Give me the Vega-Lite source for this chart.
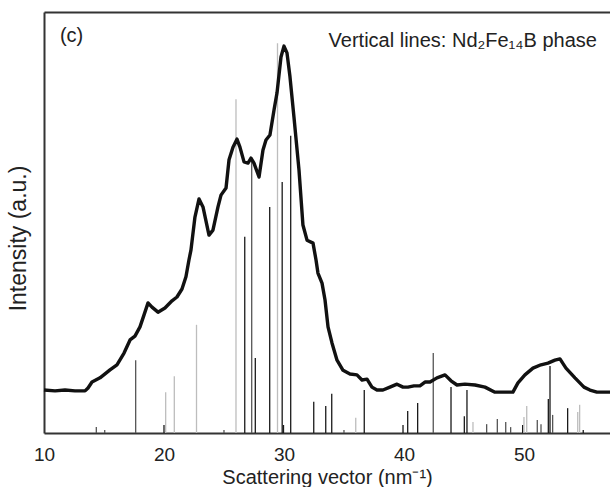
{
  "$schema": "https://vega.github.io/schema/vega-lite/v6.json",
  "width": 566,
  "height": 421,
  "autosize": {"type": "none"},
  "padding": {"left": 44, "top": 12, "right": 0, "bottom": 54},
  "background": "white",
  "config": {"view": {"stroke": null}, "font": "Liberation Sans"},
  "datasets": {
    "curve": [
      {"q": 10.00, "I": 10.2}, {"q": 10.92, "I": 10.0}, {"q": 11.75, "I": 10.2}, {"q": 12.58, "I": 10.0},
      {"q": 13.42, "I": 10.0}, {"q": 13.67, "I": 10.7}, {"q": 14.00, "I": 12.1}, {"q": 14.67, "I": 13.1},
      {"q": 15.50, "I": 15.0}, {"q": 16.08, "I": 16.2}, {"q": 16.67, "I": 19.0}, {"q": 17.17, "I": 22.1},
      {"q": 17.58, "I": 23.0}, {"q": 18.00, "I": 25.2}, {"q": 18.33, "I": 28.0}, {"q": 18.67, "I": 30.9},
      {"q": 19.00, "I": 29.9}, {"q": 19.50, "I": 28.7}, {"q": 20.08, "I": 29.7}, {"q": 20.67, "I": 31.4},
      {"q": 21.08, "I": 32.3}, {"q": 21.50, "I": 34.2}, {"q": 21.83, "I": 37.1}, {"q": 22.08, "I": 41.1},
      {"q": 22.25, "I": 43.5}, {"q": 22.58, "I": 51.3}, {"q": 22.92, "I": 55.6}, {"q": 23.25, "I": 53.7},
      {"q": 23.75, "I": 47.0}, {"q": 24.08, "I": 48.2}, {"q": 24.50, "I": 53.7}, {"q": 24.75, "I": 56.5},
      {"q": 25.17, "I": 58.2}, {"q": 25.42, "I": 64.9}, {"q": 25.75, "I": 67.9}, {"q": 26.08, "I": 69.8},
      {"q": 26.33, "I": 67.9}, {"q": 26.67, "I": 64.4}, {"q": 27.00, "I": 64.1}, {"q": 27.25, "I": 65.3},
      {"q": 27.50, "I": 64.1}, {"q": 27.92, "I": 60.8}, {"q": 28.25, "I": 67.2}, {"q": 28.50, "I": 69.6},
      {"q": 28.83, "I": 70.8}, {"q": 29.17, "I": 76.7}, {"q": 29.42, "I": 80.8}, {"q": 29.75, "I": 89.3},
      {"q": 30.00, "I": 91.9}, {"q": 30.25, "I": 90.3}, {"q": 30.50, "I": 84.6}, {"q": 30.83, "I": 75.1},
      {"q": 31.25, "I": 62.5}, {"q": 31.58, "I": 49.4}, {"q": 31.92, "I": 45.8}, {"q": 32.42, "I": 45.1},
      {"q": 32.67, "I": 41.1}, {"q": 32.83, "I": 38.0}, {"q": 33.17, "I": 35.6}, {"q": 33.42, "I": 31.6},
      {"q": 33.67, "I": 25.2}, {"q": 34.00, "I": 21.4}, {"q": 34.42, "I": 17.3}, {"q": 34.92, "I": 14.9},
      {"q": 35.50, "I": 14.0}, {"q": 36.08, "I": 13.8}, {"q": 36.50, "I": 12.6}, {"q": 36.92, "I": 12.8},
      {"q": 37.33, "I": 10.9}, {"q": 37.75, "I": 10.2}, {"q": 38.25, "I": 10.2}, {"q": 38.83, "I": 10.9},
      {"q": 39.42, "I": 11.6}, {"q": 39.92, "I": 10.9}, {"q": 40.33, "I": 10.9}, {"q": 40.83, "I": 11.2},
      {"q": 41.33, "I": 11.2}, {"q": 41.75, "I": 12.1}, {"q": 42.17, "I": 12.1}, {"q": 42.75, "I": 13.1},
      {"q": 43.42, "I": 13.8}, {"q": 43.92, "I": 12.4}, {"q": 44.42, "I": 11.4}, {"q": 45.08, "I": 11.6},
      {"q": 45.92, "I": 11.4}, {"q": 46.75, "I": 10.9}, {"q": 47.58, "I": 9.7}, {"q": 48.42, "I": 9.7},
      {"q": 49.08, "I": 9.7}, {"q": 49.50, "I": 11.9}, {"q": 50.08, "I": 13.8}, {"q": 50.75, "I": 15.4},
      {"q": 51.42, "I": 16.2}, {"q": 52.00, "I": 16.6}, {"q": 52.58, "I": 17.3}, {"q": 53.00, "I": 17.6},
      {"q": 53.50, "I": 15.4}, {"q": 54.25, "I": 13.1}, {"q": 55.00, "I": 10.9}, {"q": 55.50, "I": 10.2},
      {"q": 56.08, "I": 9.7}, {"q": 57.17, "I": 9.7}
    ],
    "peaks": [
      {"q": 14.36, "I": 1.4, "tone": "mid"}, {"q": 15.06, "I": 0.7, "tone": "mid"},
      {"q": 17.64, "I": 17.3, "tone": "mid"}, {"q": 20.00, "I": 1.9, "tone": "dark"},
      {"q": 20.14, "I": 9.7, "tone": "light"}, {"q": 20.86, "I": 13.5, "tone": "light"},
      {"q": 22.71, "I": 25.7, "tone": "light"}, {"q": 25.00, "I": 0.7, "tone": "mid"},
      {"q": 26.00, "I": 79.3, "tone": "light"}, {"q": 26.73, "I": 46.6, "tone": "dark"},
      {"q": 27.31, "I": 64.9, "tone": "mid"}, {"q": 27.61, "I": 17.8, "tone": "dark"},
      {"q": 28.81, "I": 53.7, "tone": "dark"}, {"q": 29.46, "I": 92.6, "tone": "light"},
      {"q": 29.85, "I": 59.6, "tone": "dark"}, {"q": 29.96, "I": 1.9, "tone": "dark"},
      {"q": 30.56, "I": 70.6, "tone": "dark"}, {"q": 32.48, "I": 7.4, "tone": "dark"},
      {"q": 33.48, "I": 6.4, "tone": "dark"}, {"q": 33.98, "I": 9.3, "tone": "dark"},
      {"q": 35.00, "I": 0.7, "tone": "mid"}, {"q": 35.98, "I": 3.6, "tone": "light"},
      {"q": 36.69, "I": 10.2, "tone": "dark"}, {"q": 39.92, "I": 1.9, "tone": "dark"},
      {"q": 40.31, "I": 5.2, "tone": "dark"}, {"q": 41.14, "I": 7.1, "tone": "dark"},
      {"q": 42.44, "I": 19.0, "tone": "mid"}, {"q": 43.92, "I": 10.9, "tone": "dark"},
      {"q": 45.03, "I": 4.0, "tone": "dark"}, {"q": 45.25, "I": 10.2, "tone": "dark"},
      {"q": 45.75, "I": 2.6, "tone": "light"}, {"q": 46.89, "I": 2.1, "tone": "mid"},
      {"q": 47.78, "I": 3.3, "tone": "mid"}, {"q": 48.48, "I": 2.6, "tone": "mid"},
      {"q": 48.89, "I": 1.4, "tone": "mid"}, {"q": 49.89, "I": 1.9, "tone": "dark"},
      {"q": 50.00, "I": 3.8, "tone": "light"}, {"q": 50.23, "I": 6.4, "tone": "light"},
      {"q": 51.11, "I": 3.1, "tone": "mid"}, {"q": 51.42, "I": 2.1, "tone": "mid"},
      {"q": 52.03, "I": 8.1, "tone": "dark"}, {"q": 52.17, "I": 15.9, "tone": "dark"},
      {"q": 52.39, "I": 4.3, "tone": "mid"}, {"q": 53.64, "I": 5.9, "tone": "dark"},
      {"q": 54.48, "I": 5.0, "tone": "light"}, {"q": 54.64, "I": 6.7, "tone": "light"},
      {"q": 54.94, "I": 0.7, "tone": "dark"}
    ],
    "labels": [
      {"q": 11.33, "I": 92.9, "text": "(c)", "side": "left"},
      {"q": 56.08, "I": 91.8, "text": "Vertical lines: Nd₂Fe₁₄B phase", "side": "right"}
    ]
  },
  "resolve": {"axis": {"x": "independent", "y": "independent"}},
  "layer": [
    {
      "data": {"name": "peaks"},
      "mark": {"type": "rule", "strokeWidth": 1.3},
      "encoding": {
        "x": {"field": "q", "type": "quantitative", "scale": {"domain": [10, 57.17], "nice": false, "zero": false},
              "axis": {"orient": "top", "labels": false, "ticks": false, "grid": false, "title": null, "domainColor": "#333", "domainWidth": 2}},
        "y": {"field": "I", "type": "quantitative", "scale": {"domain": [0, 100], "nice": false}, "axis": null},
        "y2": {"datum": 0},
        "color": {"field": "tone", "type": "nominal", "legend": null,
                  "scale": {"domain": ["dark", "mid", "light"], "range": ["#1a1a1a", "#555555", "#bdbdbd"]}}
      }
    },
    {
      "data": {"name": "curve"},
      "mark": {"type": "line", "color": "#111111", "strokeWidth": 3.4, "strokeJoin": "round"},
      "encoding": {
        "x": {"field": "q", "type": "quantitative", "scale": {"domain": [10, 57.17], "nice": false, "zero": false},
              "axis": {"orient": "bottom", "values": [10, 20, 30, 40, 50], "ticks": false, "grid": false,
                       "domainColor": "#333", "domainWidth": 2, "labelFontSize": 19, "labelColor": "#222",
                       "labelFlush": false, "labelPadding": 12, "title": "Scattering vector (nm⁻¹)", "titleFontSize": 20,
                       "titleFontWeight": "normal", "titleColor": "#222", "titlePadding": 3}},
        "y": {"field": "I", "type": "quantitative", "scale": {"domain": [0, 100], "nice": false},
              "axis": {"orient": "left", "labels": false, "ticks": false, "grid": false,
                       "domainColor": "#333", "domainWidth": 2, "title": "Intensity (a.u.)", "titleFontSize": 23,
                       "titleFontWeight": "normal", "titleColor": "#222", "titlePadding": 14, "titleY": 226}}
      }
    },
    {
      "data": {"name": "labels"},
      "transform": [{"filter": "datum.side == 'left'"}],
      "mark": {"type": "text", "align": "left", "baseline": "alphabetic", "fontSize": 20, "color": "#222"},
      "encoding": {
        "x": {"field": "q", "type": "quantitative", "axis": null},
        "y": {"field": "I", "type": "quantitative", "axis": null},
        "text": {"field": "text"}
      }
    },
    {
      "data": {"name": "labels"},
      "transform": [{"filter": "datum.side == 'right'"}],
      "mark": {"type": "text", "align": "right", "baseline": "alphabetic", "fontSize": 20, "color": "#222"},
      "encoding": {
        "x": {"field": "q", "type": "quantitative", "axis": null},
        "y": {"field": "I", "type": "quantitative", "axis": null},
        "text": {"field": "text"}
      }
    }
  ]
}
